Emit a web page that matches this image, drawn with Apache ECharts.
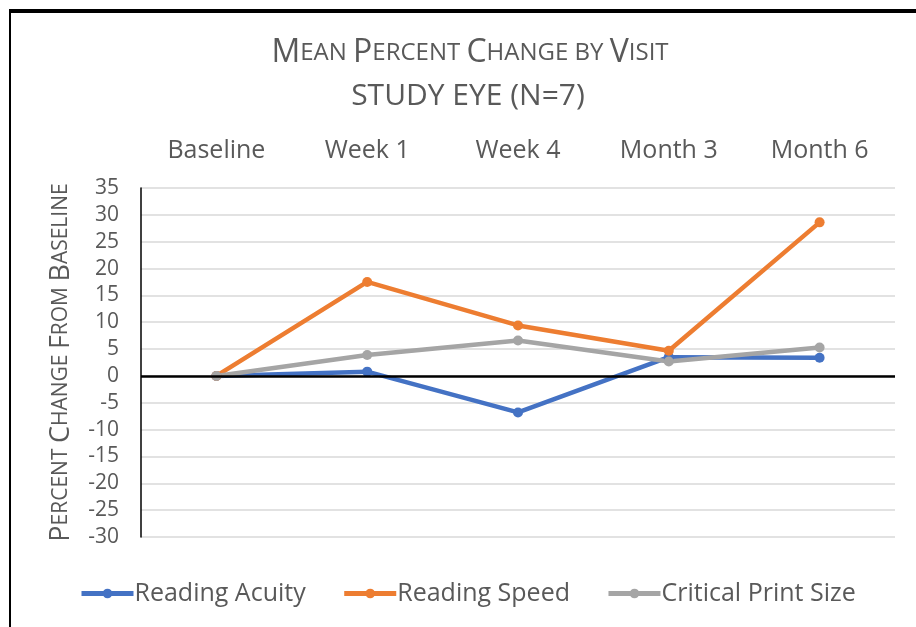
<!DOCTYPE html>
<html>
<head>
<meta charset="utf-8">
<script src="https://cdn.jsdelivr.net/npm/echarts@6/dist/echarts.min.js"></script>
<style>
  html, body { margin: 0; padding: 0; background: #fff; }
  #chart { width: 916px; height: 627px; }
</style>
</head>
<body>
<div id="chart"></div>
<script>
  'use strict'

  // visits along the top
  var visits = ['Baseline', 'Week 1', 'Week 4', 'Month 3', 'Month 6'];

  // mean percent change
  var readingAcuity = [0, 0.8, -6.8, 3.5, 3.4];
  var readingSpeed = [0, 17.5, 9.4, 4.7, 28.6];
  var criticalPrintSize = [0, 3.9, 6.6, 2.7, 5.3];

  var titleText = 'Mean Percent Change by Visit';
  var subText = 'STUDY EYE (N=7)';
  var yName = 'Percent Change From Baseline';

  var grey = '#595959';
  var font = '"Open Sans", "Noto Sans", sans-serif';

  // small caps the way Excel draws them
  function smallCaps(str) {
    return str.split(' ').map(function (w) {
      var first = w.charAt(0), rest = w.slice(1).toUpperCase();
      if (first === first.toLowerCase()) {
        return '{s|' + w.toUpperCase() + '}';
      }
      return '{b|' + first + '}' + (rest ? '{s|' + rest + '}' : '');
    }).join('{s| }');
  }

  function line(name, data, color) {
    return {
      name: name,
      type: 'line',
      data: data,
      symbol: 'circle',
      symbolSize: 10,
      color: color,
      lineStyle: { width: 4.5, color: color },
      itemStyle: { color: color }
    };
  }

  var series = [
    line('Reading Acuity', readingAcuity, '#4472C4'),
    line('Reading Speed', readingSpeed, '#ED7D31'),
    line('Critical Print Size', criticalPrintSize, '#A5A5A5')
  ];
  series[0].markLine = {
    silent: true,
    symbol: 'none',
    label: { show: false },
    lineStyle: { color: '#000', width: 2.5, type: 'solid' },
    data: [{ yAxis: 0 }]
  };

  var option = {
    backgroundColor: '#fff',
    animation: false,
    title: [{
      text: smallCaps(titleText),
      left: 465,
      top: 32,
      textAlign: 'center',
      textStyle: {
        fontWeight: 'normal',
        rich: {
          b: { fontFamily: font, fontSize: 32, fontWeight: 'normal', color: grey },
          s: { fontFamily: font, fontSize: 24, fontWeight: 'normal', color: grey }
        }
      }
    }, {
      text: subText,
      left: 463,
      top: 76,
      textAlign: 'center',
      textStyle: { fontFamily: font, fontSize: 30, fontWeight: 'normal', color: grey }
    }],
    legend: {
      bottom: 16,
      left: 74,
      itemWidth: 52,
      itemHeight: 12,
      itemGap: 36,
      lineStyle: { width: 5 },
      textStyle: { fontFamily: font, fontSize: 25, color: grey, padding: [0, 0, 0, -4] },
      data: series.map(function (s) { return s.name; })
    },
    grid: { left: 141, right: 21, top: 188, bottom: 90 },
    xAxis: {
      type: 'category',
      position: 'top',
      data: visits,
      axisLine: { show: false },
      axisTick: { show: false },
      axisLabel: { fontFamily: font, fontSize: 25, color: grey, margin: 25 }
    },
    yAxis: {
      type: 'value',
      min: -30,
      max: 35,
      interval: 5,
      name: smallCaps(yName),
      nameLocation: 'middle',
      nameRotate: 90,
      nameGap: 66,
      nameTextStyle: {
        rich: {
          b: { fontFamily: font, fontSize: 27, color: grey },
          s: { fontFamily: font, fontSize: 21, color: grey }
        }
      },
      axisLine: { show: true, lineStyle: { color: '#000', width: 1.5 } },
      axisTick: { show: false },
      axisLabel: { fontFamily: font, fontSize: 21, color: grey, margin: 22 },
      splitLine: { lineStyle: { color: '#d9d9d9', width: 1.5 } }
    },
    graphic: [
      { type: 'rect', shape: { x: 9, y: 9, width: 907, height: 4 }, style: { fill: '#000' } },
      { type: 'rect', shape: { x: 9, y: 9, width: 2, height: 618 }, style: { fill: '#000' } }
    ],
    series: series
  };

  var chart = echarts.init(document.getElementById('chart'));
  chart.setOption(option);
</script>
</body>
</html>
